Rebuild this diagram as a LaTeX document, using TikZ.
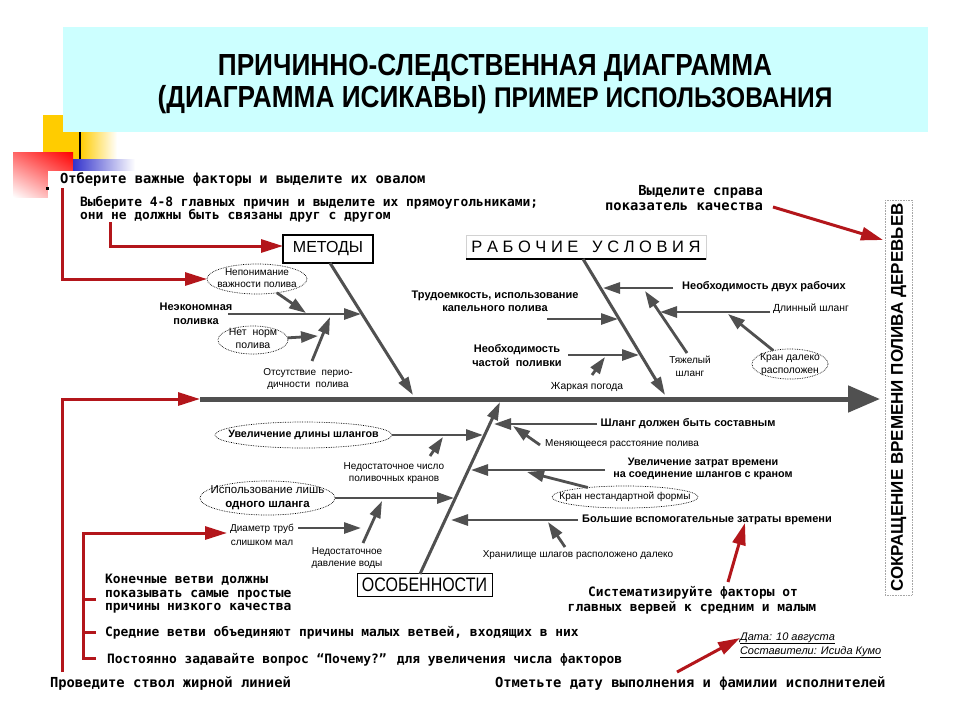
\documentclass[tikz,border=0pt]{standalone}
\usepackage{fontspec}
\setmainfont{Liberation Sans}
\newfontfamily\monof{DejaVu Sans Mono}
\newfontfamily\narrowf[FakeStretch=0.82]{Liberation Sans}
\newfontfamily\titlef[FakeStretch=0.86]{Liberation Sans}
\usetikzlibrary{arrows.meta,shapes.geometric,shadings}
\definecolor{bonec}{HTML}{505050}
\definecolor{redc}{HTML}{B3161B}
\definecolor{bannerc}{HTML}{CCFFFF}
\definecolor{yelc}{HTML}{FFCC00}
\definecolor{bluec}{HTML}{3333CC}
\newcommand\zb[1]{\makebox[0pt]{\raisebox{-0.25em}[0pt][0pt]{\begin{tabular}[c]{@{}c@{}}#1\end{tabular}}}}
\begin{document}
\begin{tikzpicture}[x=1pt,y=-1pt,
  every node/.style={inner sep=0pt, outer sep=0pt},
  trunk/.style={draw=bonec, line width=5pt, -{Triangle[length=32pt,width=26pt]}},
  bone/.style={draw=bonec, line width=3pt, -{Triangle[length=18pt,width=11pt]}},
  subarr/.style={draw=bonec, line width=2.8pt, -{Triangle[length=17pt,width=11pt]}},
  redarr/.style={draw=redc, line width=3pt, -{Triangle[length=22pt,width=13pt]}},
  redln/.style={draw=redc, line width=3pt},
  oval/.style={ellipse, draw=black, densely dotted, line width=0.7pt},
  sm/.style={font=\fontsize{10}{12}\selectfont, align=center},
  bd/.style={font=\bfseries\fontsize{11}{13.5}\selectfont, align=center},
  ins/.style={font=\monof\bfseries\fontsize{12.9}{13}\selectfont, anchor=base west},
  insL/.style={font=\monof\bfseries\fontsize{13.8}{14}\selectfont, anchor=base west},
]
\useasboundingbox (0,0) rectangle (960,720);
\fill[white] (0,0) rectangle (960,720);
% decoration
\fill[yelc] (43,115) rectangle (80,162);
\shade[left color=yelc, right color=white] (80,115) rectangle (117,162);
\fill[bannerc] (63,27) rectangle (928,132);
\draw[black, line width=2pt] (80,132) -- (80,162);
\shade[upper right=red, upper left=red!60, lower right=red!45, lower left=white] (13,152) rectangle (73,197);
\shade[left color=bluec, right color=white] (73,159) rectangle (135,170);
\fill[white] (48,171) rectangle (935,705);
\fill[black] (46,187) rectangle (49,190);
% title
\node[font=\titlef\bfseries\fontsize{30.5}{32}\selectfont] (t1) at (495,68) {ПРИЧИННО-СЛЕДСТВЕННАЯ ДИАГРАММА};
\node[font=\titlef\bfseries\fontsize{30.5}{32}\selectfont] (t2) at (495,100) {(ДИАГРАММА ИСИКАВЫ) {\fontsize{28.5}{32}\selectfont ПРИМЕР ИСПОЛЬЗОВАНИЯ}};
% instructions
\node[insL] (otb) at (60,183) {Отберите важные факторы и выделите их овалом};
\node[ins] (vyb1) at (80,206) {Выберите 4-8 главных причин и выделите их прямоугольниками;};
\node[ins] (vyb2) at (80,219) {они не должны быть связаны друг с другом};
\node[insL, anchor=base east] (vyd1) at (763,195) {Выделите справа};
\node[insL, anchor=base east] (vyd2) at (763,210) {показатель качества};
\node[ins] (kon1) at (105,583) {Конечные ветви должны};
\node[ins] (kon2) at (105,597) {показывать самые простые};
\node[ins] (kon3) at (105,610) {причины низкого качества};
\node[ins] (sred) at (105,636) {Средние ветви объединяют причины малых ветвей, входящих в них};
\node[ins] (post) at (107,663) {Постоянно задавайте вопрос “Почему?” для увеличения числа факторов};
\node[insL] (prov) at (50,687) {Проведите ствол жирной линией};
\node[insL] (otm) at (495,687) {Отметьте дату выполнения и фамилии исполнителей};
\node[ins, anchor=base] (sys1) at (693,596) {Систематизируйте факторы от};
\node[ins, anchor=base] (sys2) at (692,611) {главных вервей к средним и малым};
\node[font=\itshape\fontsize{11}{11}\selectfont, anchor=base west] (data) at (740,640) {\underline{Дата: 10 августа}};
\node[font=\itshape\fontsize{11}{11}\selectfont, anchor=base west] (sostav) at (740,654) {\underline{Составители: Исида Кумо}};
% result
\node[draw=gray!70, densely dotted, line width=0.6pt, rotate=90, minimum width=395pt, minimum height=27pt, font=\bfseries\fontsize{17}{17}\selectfont] (result) at (898.5,397.5) {СОКРАЩЕНИЕ ВРЕМЕНИ ПОЛИВА ДЕРЕВЬЕВ};
% category boxes
\node[draw, line width=1.2pt, minimum width=90pt, minimum height=28pt, font=\fontsize{16}{16}\selectfont] (metody) at (328,249) {МЕТОДЫ};
\node[draw=gray!35, line width=0.6pt, minimum width=240pt, minimum height=24pt, font=\fontsize{16.5}{16.5}\selectfont] (rabusl) at (586,247) {Р А Б О Ч И Е \ \ У С Л О В И Я};
\draw[line width=1.2pt] (rabusl.south west) -- (rabusl.south east);
\node[draw, line width=1pt, minimum width=135pt, minimum height=23pt, font=\narrowf\fontsize{19.5}{19.5}\selectfont] (osob) at (424.5,585) {ОСОБЕННОСТИ};
% trunk and bones
\coordinate (tr0) at (200,399);
\coordinate (tr1) at (880,399);
\draw[trunk] (tr0) -- (tr1);
\coordinate (mb0) at (330,263);
\coordinate (mb1) at (413,395);
\draw[bone] (mb0) -- (mb1);
\coordinate (rb0) at (583,259);
\coordinate (rb1) at (665,395);
\draw[bone] (rb0) -- (rb1);
\coordinate (ob0) at (420,574);
\coordinate (ob1) at (500,402);
\draw[bone] (ob0) -- (ob1);
% labels: methods
\node[bd] (nek) at (196,314) {Неэкономная\\поливка};
\node[oval, minimum width=100pt, minimum height=30pt, font=\fontsize{10}{12}\selectfont] (ov1) at (257,279) {\zb{Непонимание\\важности полива}};
\node[oval, minimum width=70pt, minimum height=28pt, font=\fontsize{10.5}{13}\selectfont] (ov2) at (253,340) {\zb{Нет \ норм\\полива}};
\node[sm] (otsut) at (308,379) {Отсутствие \ перио-\\дичности \ полива};
% labels: working conditions
\node[bd] (dvuh) at (764,287) {Необходимость двух рабочих};
\node[bd] (trud) at (495,301.5) {Трудоемкость, использование\\капельного полива};
\node[bd] (chast) at (517,355.5) {Необходимость\\частой \ поливки};
\node[sm, font=\fontsize{10.3}{12}\selectfont] (zhark) at (587,387) {Жаркая погода};
\node[sm, font=\fontsize{10.3}{12}\selectfont] (dlin) at (811,309) {Длинный шланг};
\node[sm, font=\fontsize{10}{13}\selectfont] (tyazh) at (690,366.5) {Тяжелый\\шланг};
\node[oval, minimum width=76pt, minimum height=30pt, font=\fontsize{10.3}{13}\selectfont] (ov3) at (790,364) {\zb{Кран далеко\\расположен}};
% labels: features
\node[oval, minimum width=177pt, minimum height=26pt, font=\bfseries\fontsize{10.7}{13}\selectfont] (ov4) at (303.5,435) {\zb{Увеличение длины шлангов}};
\node[sm] (nedkr) at (394,473) {Недостаточное число\\поливочных кранов};
\node[oval, minimum width=135pt, minimum height=34pt, font=\fontsize{11.5}{14}\selectfont] (ov5) at (267.5,498) {\zb{Использование лишь\\\textbf{одного шланга}}};
\node[sm, font=\fontsize{10}{14}\selectfont] (diam) at (262,535) {Диаметр труб\\слишком мал};
\node[sm, font=\fontsize{10}{11.5}\selectfont] (davl) at (347,558) {Недостаточное\\давление воды};
\node[bd] (sost) at (688,424) {Шланг должен быть составным};
\node[sm] (menya) at (622,444) {Меняющееся расстояние полива};
\node[bd, font=\bfseries\fontsize{10.8}{12.5}\selectfont] (zatr) at (703,469) {Увеличение затрат времени\\на соединение шлангов с краном};
\node[oval, minimum width=146pt, minimum height=22pt, font=\fontsize{10}{12}\selectfont] (ov6) at (625,497) {\zb{Кран нестандартной формы}};
\node[bd] (bolsh) at (707,520) {Большие вспомогательные затраты времени};
\node[sm] (hran) at (578,555) {Хранилище шлагов расположено далеко};
% sub-arrow coordinates
\coordinate (m1s) at (228,314); \coordinate (m1t) at (361,314);
\coordinate (m2t) at (306,313);
\coordinate (m3s) at (312,361); \coordinate (m3t) at (330,317);
\coordinate (m4t) at (318,336);
\coordinate (r1s) at (673,288); \coordinate (r1t) at (603,288);
\coordinate (r2s) at (547,319); \coordinate (r2t) at (618,319);
\coordinate (r3s) at (568,355); \coordinate (r3t) at (639,355);
\coordinate (r4s) at (592,375); \coordinate (r4t) at (605,357);
\coordinate (r5s) at (770,312); \coordinate (r5t) at (660,312);
\coordinate (r6s) at (687,353); \coordinate (r6t) at (645,291);
\coordinate (r7t) at (728,314);
\coordinate (o1t) at (483,435);
\coordinate (o2s) at (430,456); \coordinate (o2t) at (443,437);
\coordinate (o3t) at (454,498);
\coordinate (o4s) at (298,528); \coordinate (o4t) at (361,528);
\coordinate (o5s) at (363,543); \coordinate (o5t) at (382,501);
\coordinate (o6s) at (597,424); \coordinate (o6t) at (494,424);
\coordinate (o7s) at (540,445); \coordinate (o7t) at (513,426);
\coordinate (o8s) at (605,470); \coordinate (o8t) at (471,470);
\coordinate (o9t) at (527,472);
\coordinate (o10s) at (578,520); \coordinate (o10t) at (451,520);
\coordinate (o11s) at (565,547); \coordinate (o11t) at (548,522);
% sub-arrows
\draw[subarr] (m1s) -- (m1t);
\draw[subarr] (ov1) -- (m2t);
\draw[subarr] (m3s) -- (m3t);
\draw[subarr] (ov2) -- (m4t);
\draw[subarr] (r1s) -- (r1t);
\draw[subarr] (r2s) -- (r2t);
\draw[subarr] (r3s) -- (r3t);
\draw[subarr] (r4s) -- (r4t);
\draw[subarr] (r5s) -- (r5t);
\draw[subarr] (r6s) -- (r6t);
\draw[subarr] (ov3) -- (r7t);
\draw[subarr] (ov4) -- (o1t);
\draw[subarr] (o2s) -- (o2t);
\draw[subarr] (ov5) -- (o3t);
\draw[subarr] (o4s) -- (o4t);
\draw[subarr] (o5s) -- (o5t);
\draw[subarr] (o6s) -- (o6t);
\draw[subarr] (o7s) -- (o7t);
\draw[subarr] (o8s) -- (o8t);
\draw[subarr] (ov6) -- (o9t);
\draw[subarr] (o10s) -- (o10t);
\draw[subarr] (o11s) -- (o11t);
% red annotation arrows
\coordinate (a1s) at (62,188);
\draw[redarr] (a1s) |- (ov1.west);
\coordinate (a2s) at (110,222);
\draw[redarr] (a2s) |- ([yshift=3pt]metody.west);
\coordinate (a3s) at (62,672);
\draw[redarr] (a3s) |- (tr0);
\coordinate (a4e) at (96,658);
\coordinate (a4s) at (83,658);
\coordinate (a4t) at (227,533);
\draw[redarr, line join=miter] (a4e) -- (a4s) |- (a4t);
\coordinate (k1a) at (83,599); \coordinate (k1b) at (96,599);
\coordinate (k2a) at (83,632); \coordinate (k2b) at (96,632);
\draw[redln] (k1a) -- (k1b);
\draw[redln] (k2a) -- (k2b);
\coordinate (a5s) at (773,207); \coordinate (a5t) at (883,240);
\draw[redarr] (a5s) -- (a5t);
\coordinate (a6s) at (728,582); \coordinate (a6t) at (745,523);
\draw[redarr] (a6s) -- (a6t);
\coordinate (a7s) at (677,672); \coordinate (a7t) at (740,638);
\draw[redarr] (a7s) -- (a7t);
\end{tikzpicture}
\end{document}
